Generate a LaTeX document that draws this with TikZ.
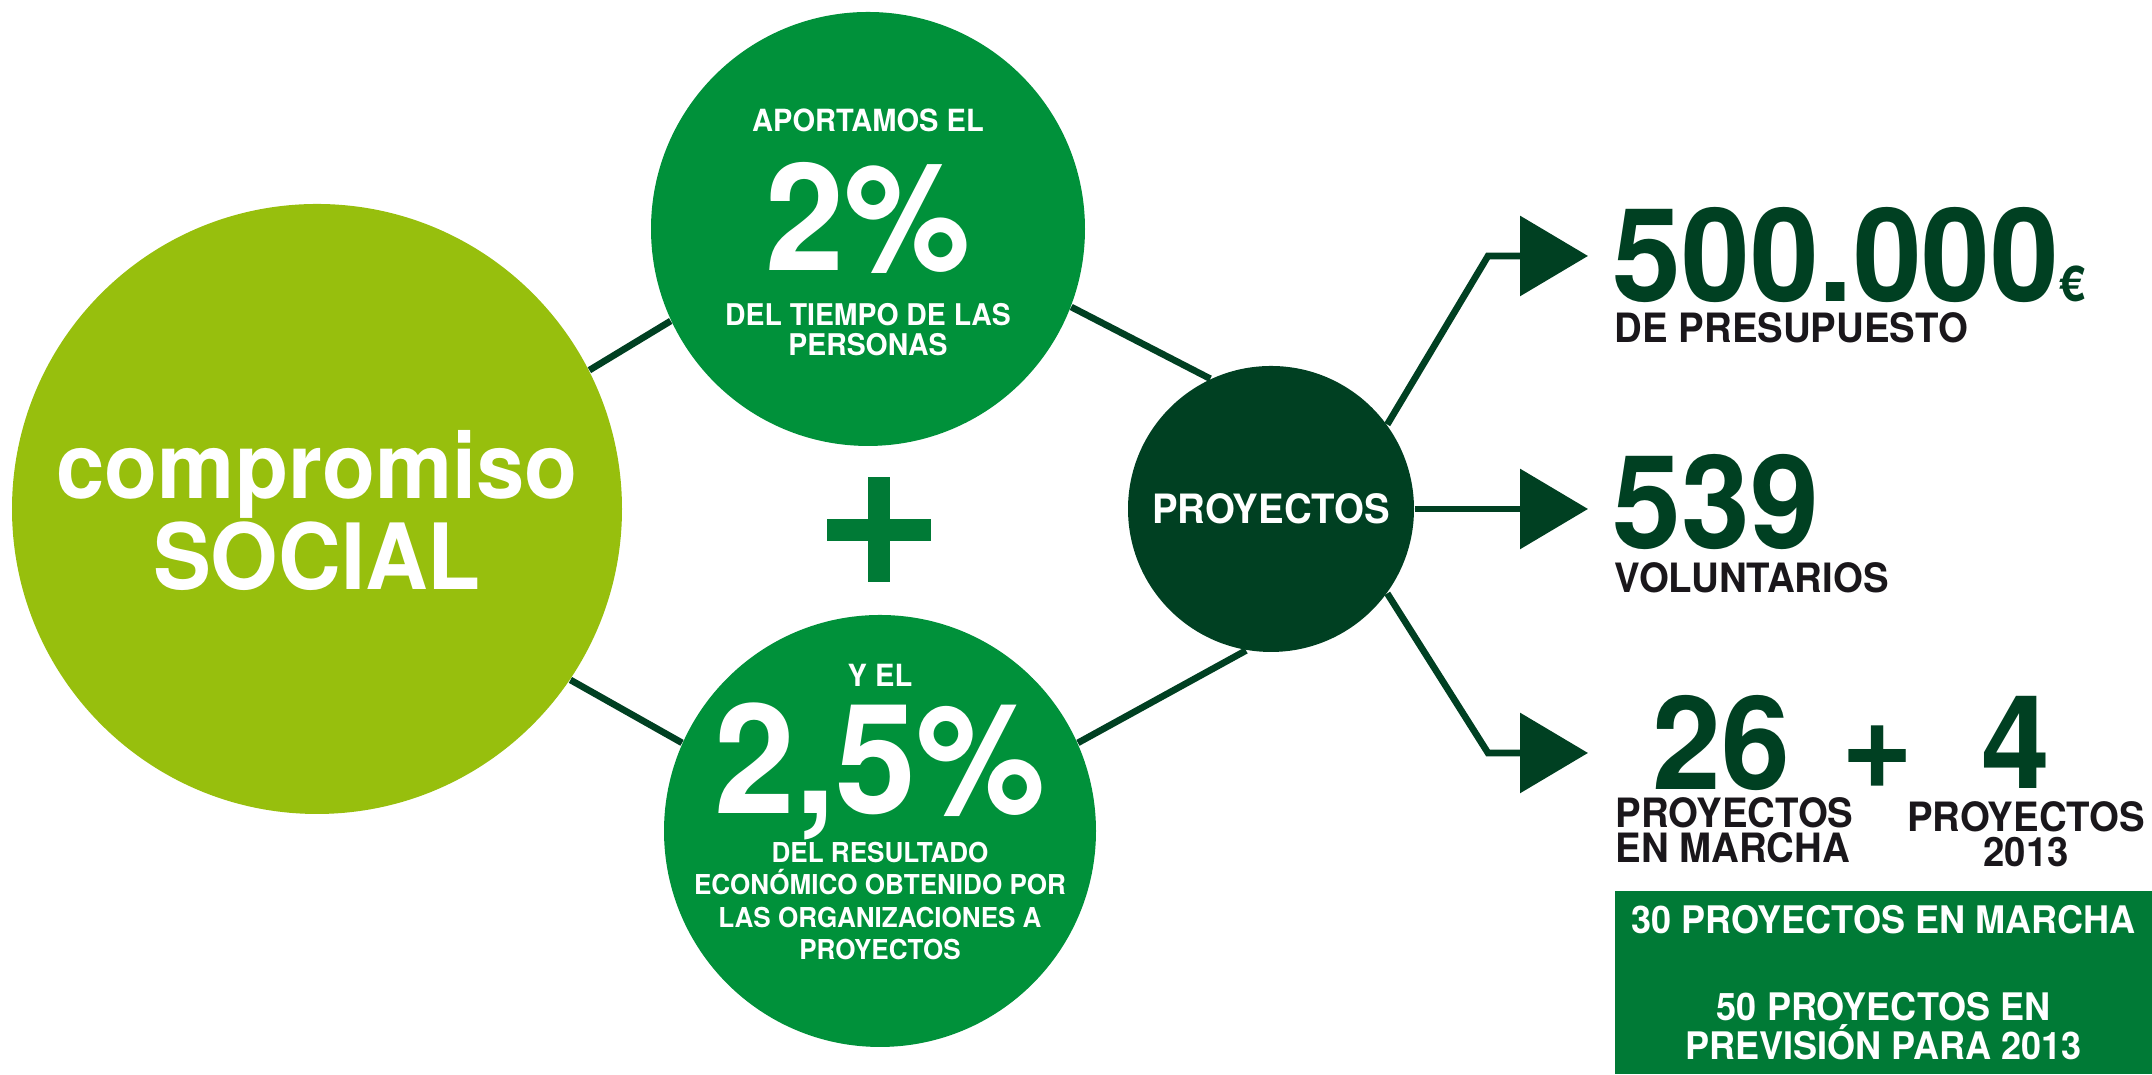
\documentclass[tikz,border=0pt]{standalone}
\usepackage{fontspec}
\setmainfont{TeX Gyre Heros}[FakeStretch=0.95]
\usetikzlibrary{arrows.meta}

\definecolor{lima}{HTML}{97BF0D}
\definecolor{verde}{HTML}{00913A}
\definecolor{verdeB}{HTML}{007A36}
\definecolor{oscuro}{HTML}{004022}
\definecolor{negro}{HTML}{1A171B}

\tikzstyle{cS}=[circle,inner sep = 0pt,text=white]
\tikzstyle{tS}=[inner sep = 0pt,text=white,anchor=base]
\tikzstyle{lS}=[line width=1.9pt,draw=oscuro]
\tikzstyle{aS}=[-{Triangle[length=6.8mm,width=7.9mm]}]
\tikzstyle{numS}=[inner sep = 0pt,anchor=base west,text=oscuro,font=\fontsize{37}{37}\selectfont\bfseries]
\tikzstyle{labS}=[inner sep = 0pt,anchor=base west,text=negro,align=left,font=\fontsize{11.5}{10}\selectfont\bfseries]
\tikzstyle{bS}=[fill=verdeB,inner sep = 0pt,text=white,align=center,font=\fontsize{10.8}{11.1}\selectfont\bfseries]

\begin{document}
\begin{tikzpicture}[scale=1]
                \useasboundingbox (0,0) rectangle (21.52,10.75);
                % circulos
                \draw (3.17,5.66) node[cS,fill=lima,minimum size=6.1cm] (soc) {};
                \draw (8.68,8.46) node[cS,fill=verde,minimum size=4.34cm] (apo) {};
                \draw (8.80,2.44) node[cS,fill=verde,minimum size=4.32cm] (res) {};
                \draw (12.71,5.66) node[cS,fill=oscuro,minimum size=2.86cm,font=\fontsize{11.5}{12}\selectfont\bfseries] (proy) {PROYECTOS};
                \path
                    (soc.27) edge[lS] (apo.-155)
                    (apo.-21) edge[lS] (proy.115)
                    (soc.-34) edge[lS] (res.156)
                    (res.24) edge[lS] (proy.-100)
                ;
                % textos de los circulos
                \node[tS,font=\fontsize{26}{26}\selectfont\bfseries] (socA) at ([yshift=0.10cm]soc.center) {compromiso};
                \node[tS,font=\fontsize{26}{26}\selectfont\bfseries] (socB) at ([yshift=-0.81cm]soc.center) {SOCIAL};
                \node[tS,font=\fontsize{8.7}{9}\selectfont\bfseries] (apoA) at ([yshift=0.97cm]apo.center) {APORTAMOS EL};
                \node[tS,font=\fontsize{42.5}{43}\selectfont\bfseries] (apoB) at ([yshift=-0.42cm]apo.center) {2\%};
                \node[tS,align=center,font=\fontsize{8.5}{8.8}\selectfont\bfseries] (apoC) at ([yshift=-1.27cm]apo.center) {DEL TIEMPO DE LAS\\PERSONAS};
                \node[tS,font=\fontsize{8.7}{9}\selectfont\bfseries] (resA) at ([yshift=1.44cm]res.center) {Y EL};
                \node[tS,font=\fontsize{43.5}{44}\selectfont\bfseries] (resB) at ([yshift=0.17cm]res.center) {2,5\%};
                \node[tS,align=center,font=\fontsize{7.8}{9.25}\selectfont\bfseries] (resC) at ([yshift=-1.29cm]res.center) {DEL RESULTADO\\ECONÓMICO OBTENIDO POR\\LAS ORGANIZACIONES A\\PROYECTOS};
                % signo mas
                \fill[verdeB] (8.27,5.34) rectangle (9.31,5.56);
                \fill[verdeB] (8.68,4.93) rectangle (8.90,5.98);
                % flechas
                \coordinate (eA) at (14.88,8.19);
                \coordinate (tA) at (15.88,8.19);
                \coordinate (tB) at (15.88,5.66);
                \coordinate (eC) at (14.88,3.22);
                \coordinate (tC) at (15.88,3.22);
                \draw[lS,aS] (proy.36) -- (eA) -- (tA);
                \draw[lS,aS] (proy.0) -- (tB);
                \draw[lS,aS] (proy.-36) -- (eC) -- (tC);
                % cifras
                \node[numS] (n500) at (16.12,7.73) {500.000{\fontsize{14}{14}\selectfont €}};
                \node[labS] (l500) at (16.14,7.32) {DE PRESUPUESTO};
                \node[numS] (n539) at (16.12,5.26) {539};
                \node[labS] (l539) at (16.14,4.82) {VOLUNTARIOS};
                \node[numS] (n26) at (16.52,2.85) {26};
                \node[numS,anchor=center] (nmas) at (18.78,3.18) {+};
                \node[numS] (n4) at (19.81,2.86) {4};
                \node[labS] (l26) at (16.15,2.12) {PROYECTOS\\EN MARCHA};
                \node[labS,anchor=base,align=center] (l4) at (20.26,2.08) {PROYECTOS\\2013};
                \node[bS,anchor=south west,minimum width=5.38cm,minimum height=1.83cm] (caja) at (16.14,0) {30 PROYECTOS EN MARCHA\\[13.6pt]50 PROYECTOS EN\\PREVISIÓN PARA 2013};
        \end{tikzpicture}
\end{document}
